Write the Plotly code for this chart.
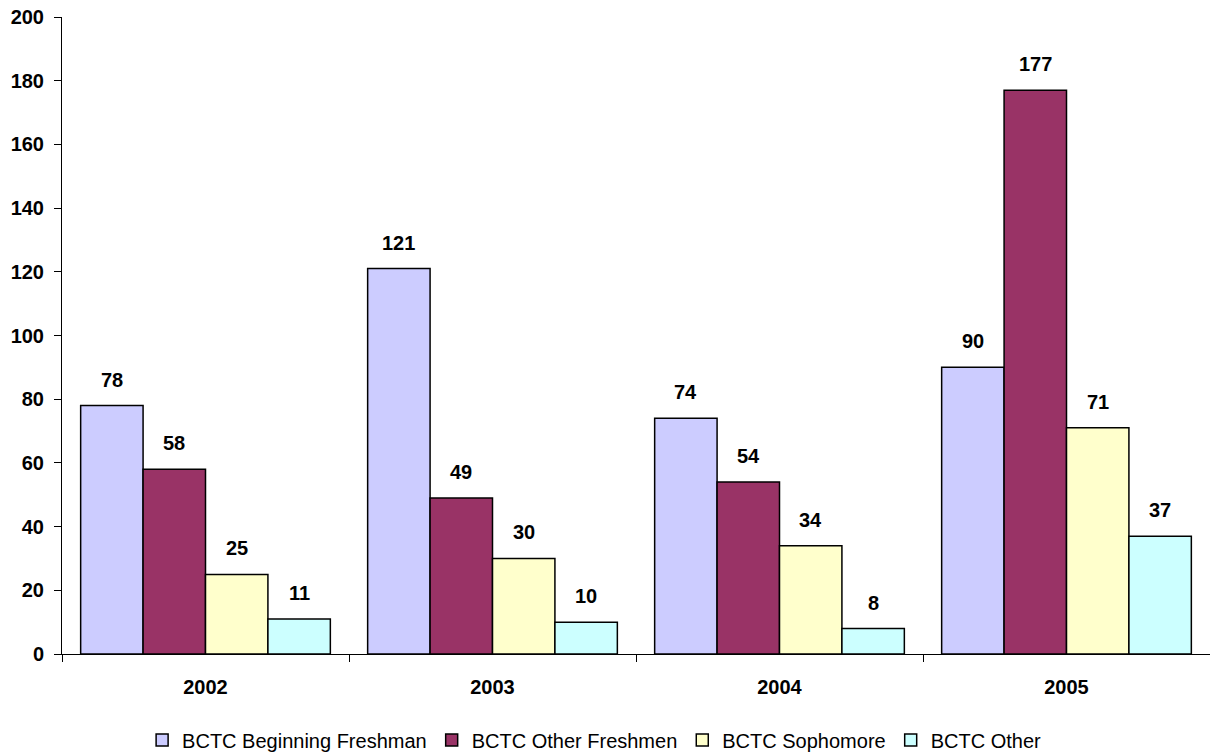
import plotly.graph_objects as go

years = ["2002", "2003", "2004", "2005"]
series_names = ["BCTC Beginning Freshman", "BCTC Other Freshmen", "BCTC Sophomore", "BCTC Other"]
beginning_freshman = [78, 121, 74, 90]
other_freshmen = [58, 49, 54, 177]
sophomore = [25, 30, 34, 71]
other = [11, 10, 8, 37]
y_ticks = [0, 20, 40, 60, 80, 100, 120, 140, 160, 180, 200]

series_values = [beginning_freshman, other_freshmen, sophomore, other]
colors = ["#CCCCFF", "#993366", "#FFFFCC", "#CCFFFF"]

FONT = "Arial, Liberation Sans, sans-serif"
bargap = 0.13

fig = go.Figure()
for name, vals, col in zip(series_names, series_values, colors):
    fig.add_trace(go.Bar(
        x=years, y=vals, name=name,
        marker=dict(color=col, line=dict(color="black", width=1.5)),
    ))

# data labels above bars
n = len(series_values)
w = (1 - bargap) / n
annotations = []
for i, vals in enumerate(series_values):
    for j, v in enumerate(vals):
        annotations.append(dict(
            x=j + (i - (n - 1) / 2) * w, y=v, xref="x", yref="y",
            text=str(v), showarrow=False, yshift=26,
            font=dict(family=FONT, size=20, color="black", weight="bold"),
        ))

fig.update_layout(
    width=1210, height=753,
    margin=dict(l=62, r=0, t=17, b=99, autoexpand=False),
    paper_bgcolor="white", plot_bgcolor="white",
    barmode="group", bargap=bargap, bargroupgap=0,
    font=dict(family=FONT, color="black"),
    annotations=annotations,
    showlegend=True,
    legend=dict(
        orientation="h", xref="container", yref="paper",
        x=0.491, xanchor="center", y=-0.135, yanchor="middle",
        font=dict(family=FONT, size=20, color="black"),
        itemwidth=30, traceorder="normal",
    ),
)
fig.update_xaxes(
    type="category", showline=True, linecolor="black", linewidth=1,
    ticks="outside", tickson="boundaries", ticklen=7, tickcolor="black",
    tickfont=dict(family=FONT, size=20, color="black", weight="bold"),
    ticklabelstandoff=15, showgrid=False, automargin=False,
)
fig.update_yaxes(
    range=[0, 200], tickvals=y_ticks, showline=True, linecolor="black", linewidth=1,
    ticks="outside", ticklen=7, tickcolor="black",
    tickfont=dict(family=FONT, size=20, color="black", weight="bold"),
    ticklabelstandoff=6, ticklabeloverflow="allow",
    showgrid=False, zeroline=False, automargin=False,
)

# remove the browser's default 8px page margin so the figure fills the window
fig.write_html("out.html", config={"displayModeBar": False},
               post_script="document.body.style.margin='0';")
